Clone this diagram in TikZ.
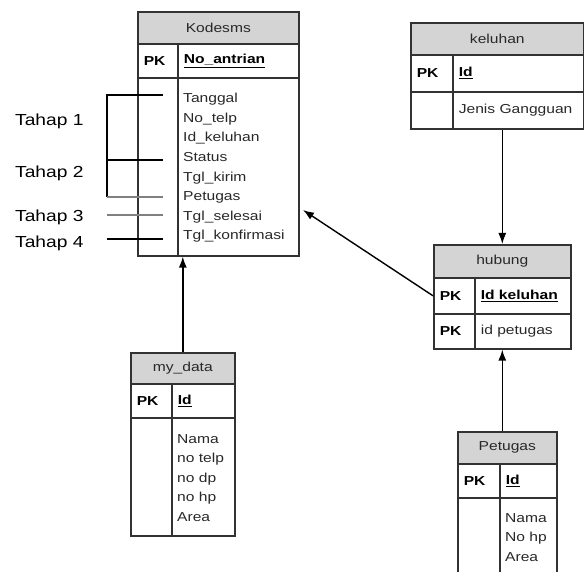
\documentclass[tikz,border=0pt]{standalone}
\usepackage{fontspec}
\setmainfont{Liberation Sans}[FakeStretch=1.2]
\usepackage{tikz}
\usepackage{xcolor}
\usetikzlibrary{arrows.meta, positioning, calc}
\definecolor{framegray}{RGB}{50,50,50}
\definecolor{titlegray}{RGB}{212,212,212}
\definecolor{textgray}{RGB}{40,40,40}
\newcommand{\tablefont}{\fontsize{13}{19.6}\selectfont}
\newcommand{\tahapfont}{\fontsize{16}{19}\selectfont}

\begin{document}
\begin{tikzpicture}[
				x=1pt, y=-1pt,
				title/.style={rectangle, draw=framegray, fill=titlegray, line width=1.6pt, anchor=north west, inner sep=0pt, font=\tablefont, text=textgray},
				keycell/.style={rectangle, draw=framegray, line width=1.6pt, anchor=north west, inner xsep=6pt, inner ysep=0pt, align=left, font=\tablefont, text=black},
				cell/.style={rectangle, draw=framegray, line width=1.6pt, anchor=north west, inner sep=0pt},
				field/.style={anchor=north west, inner sep=0pt, align=left, font=\tablefont, text=textgray},
				tahap/.style={anchor=base west, inner sep=0pt, font=\tahapfont},
				arrow/.style={-{Latex[length=11pt,width=8pt]}, line width=1.4pt, color=black},
				bracket/.style={line width=1.3pt}
			]
			\clip (0,0) rectangle (584,572);

			% Table: Kodesms
			\node (kodesms) [title, minimum width=161pt, minimum height=32pt] at (137,11) {Kodesms};
			\node (kodesms-pk) [keycell, text width=28pt, minimum height=34pt] at (137,43) {\textbf{PK}};
			\node (kodesms-key) [keycell, text width=109pt, minimum height=34pt] at (177,43) {\underline{\textbf{No\_antrian}}};
			\node (kodesms-col) [cell, minimum width=40pt, minimum height=178pt] at (137,77) {};
			\node (kodesms-body) [cell, minimum width=121pt, minimum height=178pt] at (177,77) {};
			\node (kodesms-fields) [field] at (183,93) {Tanggal\\No\_telp\\Id\_keluhan\\Status\\Tgl\_kirim\\Petugas\\Tgl\_selesai\\Tgl\_konfirmasi};

			% Table: keluhan
			\node (keluhan) [title, minimum width=173pt, minimum height=32pt] at (410,22) {keluhan};
			\node (keluhan-pk) [keycell, text width=30pt, minimum height=37pt] at (410,54) {\textbf{PK}};
			\node (keluhan-key) [keycell, text width=119pt, minimum height=37pt] at (452,54) {\underline{\textbf{Id}}};
			\node (keluhan-col) [cell, minimum width=42pt, minimum height=37pt] at (410,91) {};
			\node (keluhan-body) [keycell, text width=119pt, minimum height=37pt, text=textgray] at (452,91) {Jenis Gangguan};

			% Table: hubung
			\node (hubung) [title, minimum width=137pt, minimum height=33pt] at (433,244) {hubung};
			\node (hubung-pk1) [keycell, text width=29pt, minimum height=36pt] at (433,277) {\textbf{PK}};
			\node (hubung-key1) [keycell, text width=84pt, minimum height=36pt] at (474,277) {\underline{\textbf{Id keluhan}}};
			\node (hubung-pk2) [keycell, text width=29pt, minimum height=35pt] at (433,313) {\textbf{PK}};
			\node (hubung-key2) [keycell, text width=84pt, minimum height=35pt, text=textgray] at (474,313) {id petugas};

			% Table: my_data
			\node (mydata) [title, minimum width=104pt, minimum height=31pt] at (130,352) {my\_data};
			\node (mydata-pk) [keycell, text width=29pt, minimum height=34pt] at (130,383) {\textbf{PK}};
			\node (mydata-key) [keycell, text width=51pt, minimum height=34pt] at (171,383) {\underline{\textbf{Id}}};
			\node (mydata-col) [cell, minimum width=41pt, minimum height=118pt] at (130,417) {};
			\node (mydata-body) [cell, minimum width=63pt, minimum height=118pt] at (171,417) {};
			\node (mydata-fields) [field] at (177,434) {Nama\\no telp\\no dp\\no hp\\Area};

			% Table: Petugas
			\node (petugas) [title, minimum width=99pt, minimum height=32pt] at (457,431) {Petugas};
			\node (petugas-pk) [keycell, text width=30pt, minimum height=34pt] at (457,463) {\textbf{PK}};
			\node (petugas-key) [keycell, text width=45pt, minimum height=34pt] at (499,463) {\underline{\textbf{Id}}};
			\node (petugas-col) [cell, minimum width=42pt, minimum height=100pt] at (457,497) {};
			\node (petugas-body) [cell, minimum width=57pt, minimum height=100pt] at (499,497) {};
			\node (petugas-fields) [field] at (505,513) {Nama\\No hp\\Area};

			% Tahap labels and brackets
			\node (tahap1) [tahap] at (15,126) {Tahap 1};
			\node (tahap2) [tahap] at (15,178) {Tahap 2};
			\node (tahap3) [tahap] at (15,222) {Tahap 3};
			\node (tahap4) [tahap] at (15,248) {Tahap 4};
			\draw [bracket] (163,95) -- (107,95) -- (107,197);
			\draw [bracket] (107,160) -- (163,160);
			\draw [bracket, gray] (107,197) -- (163,197);
			\draw [bracket, gray] (107,215) -- (163,215);
			\draw [bracket] (107,239) -- (163,239);

			% Relations
			\coordinate (kodesms-in) at (303,210);
			\draw [arrow] (mydata.north) -- (mydata.north |- kodesms-body.south);
			\draw [arrow] (keluhan-body.south -| hubung.north) -- (hubung.north);
			\draw [arrow] (petugas.north -| hubung.north) -- (hubung-key2.south -| hubung.north);
			\draw [arrow] (hubung-pk1.west) -- (kodesms-in);

		\end{tikzpicture}
\end{document}
